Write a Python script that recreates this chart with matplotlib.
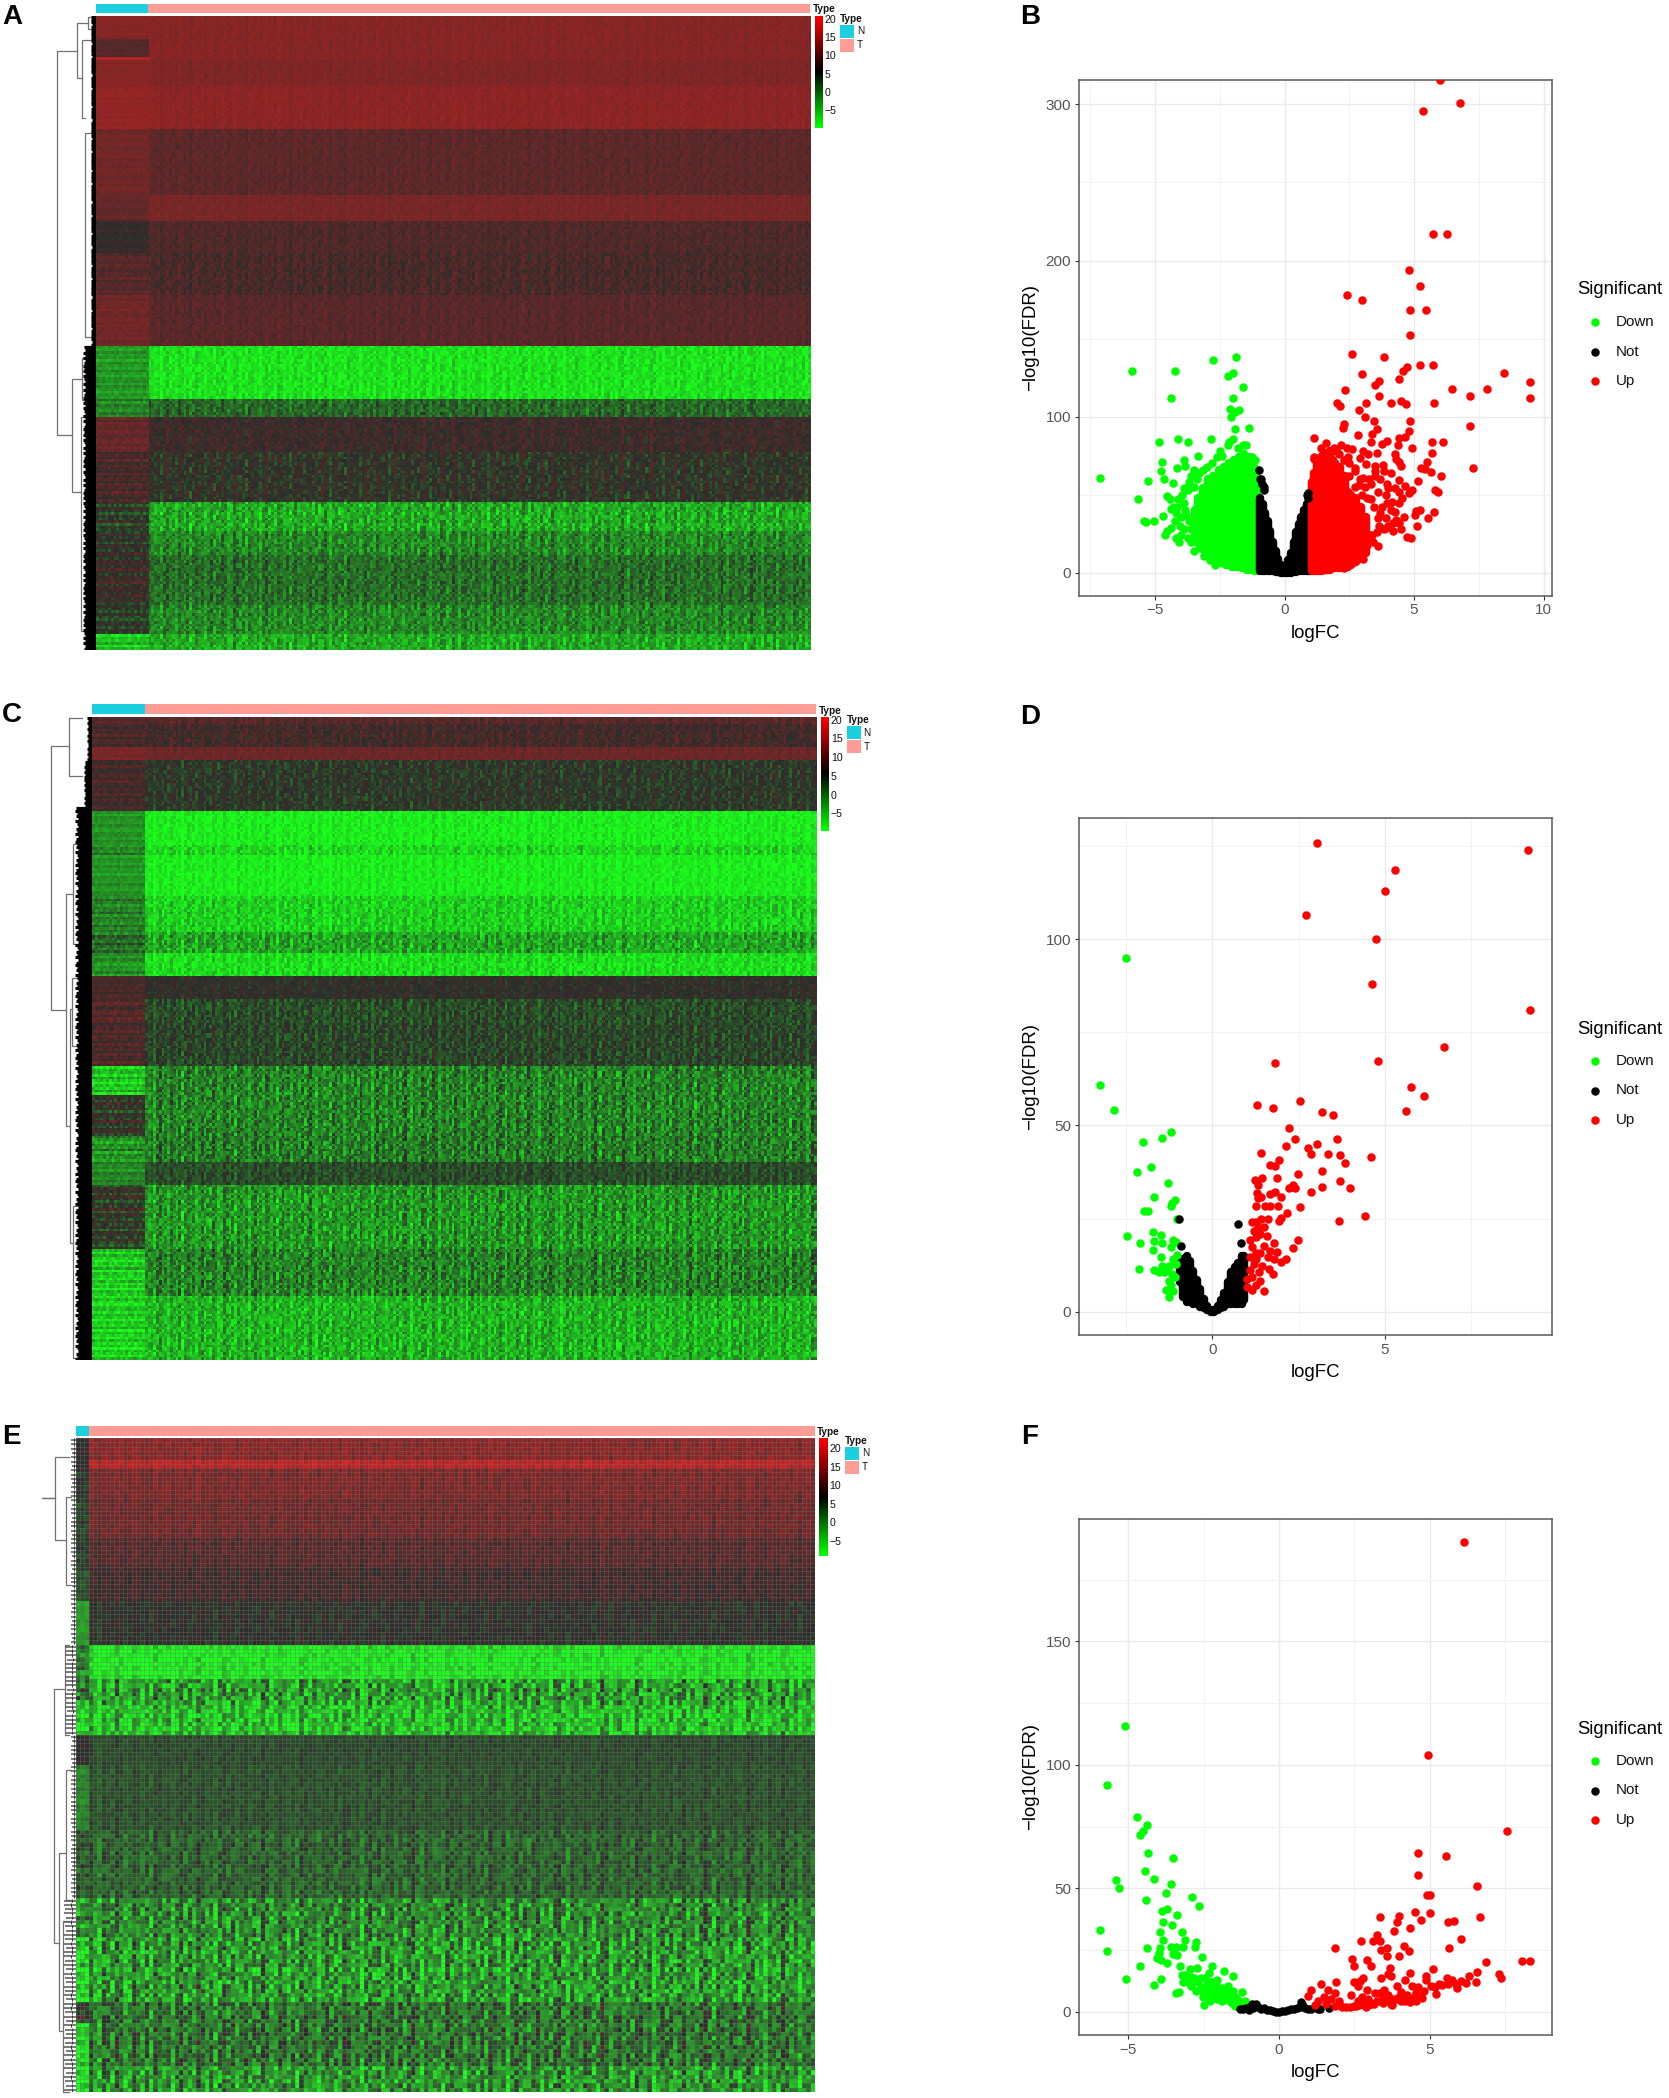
import numpy as np
import matplotlib
matplotlib.use("Agg")
import matplotlib.pyplot as plt
from matplotlib.colors import LinearSegmentedColormap
from matplotlib.ticker import MultipleLocator

plt.rcParams['font.family'] = ['Liberation Sans', 'DejaVu Sans']
W, H = 1669, 2098
fig = plt.figure(figsize=(W/100, H/100), dpi=100, facecolor='white')

def ax_px(x0, y0, x1, y1, **kw):
    return fig.add_axes([x0/W, 1-y1/H, (x1-x0)/W, (y1-y0)/H], **kw)

# ---------- Volcano data (logFC, -log10 FDR) ----------
b_up_x = [6.0,6.79,5.34,5.73,6.28,4.79,5.22,2.39,2.98,4.86,5.45,4.86,2.6,3.85,5.24,5.72,4.71,4.58,2.97,8.48,4.43,3.66,3.49,9.49,9.49,6.47,7.83,7.17,2.32,3.64,3.13,4.09,4.5,4.68,5.77,2.04,2.14,2.87,3.1,3.44,4.83,7.17,2.29,2.27,3.57,3.36,4.79,2.85,1.12,4.42,4.66,3.97,3.76,3.34,5.7,6.11,4.37,2.19,2.4,2.6,4.93,3.01,3.57,3.21,5.68,4.28,4.32,2.44,2.9,1.12,4.42,5.49,3.15,3.79,4.5,3.48,2.72,5.26,5.44,7.27,3.48,5.67,3.84,4.09,6.03,3.03,4.43,5.14,3.34,3.94,2.88,4.66,5.82,5.93,4.91,4.79,4,4.25,4.43,3.34,2.69,4.13,3.76,5.24,5.09,5.75,4.25,5.04,3.92,4.3,5.54,3.59,4.42,3.92,5.11,4.17,4.73,4.88,3.38,3.43,3.18,3.03,
          2.3,2.5,2.7,2.9,3.1,3.25,3.5,3.7,3.9,3.6,3.2,3.45,3.7,3.0,2.7,3.65,3.85,3.55,3.3,3.15,4.0,4.2,4.5,4.6,4.1,4.4,3.95,4.55,2.5,2.1,1.15,1.4,1.6,1.9,2.0,3.6,3.0,2.85,2.6,2.3,2.45]
b_up_y = [315.6,301,296,217,217,194,183.5,178,175,168,168,152.5,140,138,133,133,132,129,127,128,124,123,120.5,122,112,118,118,113,117,113,109,109,110,108,108.6,109,107,104,100,97,97,94,95,92.5,92,89,91,88,86.5,86.5,87,84.6,82.5,84,84,84,82,82,80,79,80,78,77,76,76.5,76,73,74,73.6,73,71,71,69.5,69,68.5,68.5,67,67,66.6,67,65,64.4,65,63.6,62,61,59.6,59,57,57,56,55.5,53,52,53,51,54,54,51.5,47,46,45.5,42,40.4,39.6,39,39,36.7,35,34,34.8,35,32,29,30,27,23,22,24.5,20,17.5,9,
          72,70,65,60,55,60,62,60,50,52,48,42,38,50,55,30,28,26,24,21,30,32,28,36,40,45,45,48,62,76,74,80,83,80,78,17,15,9,6,3,5]
b_down_x = [-7.12,-5.9,-4.22,-2.77,-1.89,-2.17,-1.98,-1.61,-4.37,-1.99,-2.09,-1.78,-1.93,-2.08,-1.93,-1.38,-4.84,-4.1,-3.72,-2.83,-2.16,-2,-4.74,-3.34,-3.89,-4.78,-4.17,-3.85,-4.65,-3.48,-5.27,-4.3,-5.67,-3.9,-3.74,-4.56,-4.43,-5.42,-5.06,-5.36,-4.71,-4.4,-4.15,-3.87,-4.2,-3.82,-4.38,-4.56,-4.6,-4.2,-4.07,-3.99,-3.74,-3.6,-3.25,
            -3.6,-3.4,-3.3,-3.15,-3.0,-2.8,-2.6,-2.4,-3.7,-3.5,-3.95,-4.1,-4.3,-3.85,-4.0,-3.7,-4.05,-3.9,-4.25,-3.45,-3.6,-3.35,-3.5,-3.1,-2.9,-2.7,-1.6,-1.5,-1.8,-2.2,-2.5,-1.3,-1.25,-1.15]
b_down_y = [60.4,129,129,136,138.5,126,128,119,112,112,105,104,103,100,92,93,84,86,83.6,85.4,84,86,71,75,72.5,65,67,68.5,60,66,58.5,57.7,47,54,53,49,47,33,33.4,32.6,36.4,40.7,42,45,38,36.7,28.6,27,24,22.4,20,24,22,27.8,16,
            62,60,64,66,68,70,74,75,58,55,50,47,42,40,36,33,30,28,33,30,20,20,14,11,8,5,82,82,80,82,78,70,74,72]
b_not_x = [-0.97,-0.95,-0.9,-0.87,-0.8,-0.78,0.85,0.9,0.92]
b_not_y = [66,60,60,57,53,55,50,51,48]
# dense parts of the clouds: logFC bin, lowest and highest -log10 FDR in that bin
b_down_bin = [-1.05,-1.15,-1.25,-1.35,-1.45,-1.55,-1.65,-1.75,-1.85,-1.95,-2.05,-2.15,-2.25,-2.35,-2.45,-2.55,-2.65,-2.75,-2.85,-2.95,-3.05,-3.15,-3.25,-3.35,-3.45]
b_down_hi = [60,67,69,74,72,76,70,74,68,72,66,70,64,68,62,66,58,62,56,60,50,54,46,48,40]
b_down_lo = [1,1,2,2,2,3,3,4,4,4,4,5,5,6,6,7,7,8,10,12,13,15,17,19,21]
b_not_bin = [-0.95,-0.85,-0.75,-0.65,-0.55,-0.45,-0.35,-0.25,-0.15,-0.05,0.05,0.15,0.25,0.35,0.45,0.55,0.65,0.75,0.85,0.95]
b_not_hi = [48,44,38,33,27,20,14,9,5,1.5,2,8,13,20,26,31,36,40,44,47]
b_not_lo = [1,1,1,1,1,1,0.5,0.5,0,0,0,0,0,0.5,0.5,1,1,1,1,1]
b_up_bin = [1.05,1.15,1.25,1.35,1.45,1.55,1.65,1.75,1.85,1.95,2.05,2.15,2.25,2.35,2.45,2.55,2.65,2.75,2.85,2.95,3.05,3.15]
b_up_hi = [58,64,70,72,75,77,74,78,72,70,66,68,58,62,52,50,44,48,38,42,34,36]
b_up_lo = [1,1,1,1,1,2,2,2,3,3,3,3,4,4,4,5,6,7,9,11,12,13]

d_up_x = [3.04,9.15,5.3,5,2.72,4.75,4.62,9.22,6.72,4.81,1.82,5.77,6.13,5.61,2.54,1.3,1.77,3.17,3.51,2.22,2.39,3.61,2.13,3.02,2.78,1.41,2.87,3.34,3.69,4.6,1.94,3.86,1.66,1.82,3.18,2.49,1.86,1.44,1.25,3.69,1.32,2.3,2.35,2.4,2.23,3.18,4,2.86,1.81,1.68,1.29,1.41,2,1.32,1.26,1.53,1.68,1.91,2.54,2.15,4.43,1.98,1.93,3.66,1.61,1.41,1.14,1.26,1.51,1.32,1.2,1.39,1.08,1.57,1.26,2.49,1.79,1.49,2.35,1.14,1.66,1.88,1.39,1.61,2.13,1.98,1.78,1.26,1.08,1.2,1.45,1.63,1.35,1.76,1.14,1.39,1.01,1.26,1.14,1.49,1.01,1.26,1.08]
d_up_y = [126,124,118.6,113,106.6,100,88,81,71,67.4,66.7,60.3,58,54,56.6,55.5,54.6,53.7,52.9,49.4,46.3,46.4,44.5,45,43.9,42.5,42.4,42.3,42.1,41.4,40.7,39.8,39.3,39,37.8,36.9,36,35.9,35.4,35,33.9,33.5,33.9,33.3,33.2,33.4,33.3,32,32,31.7,31.8,30.8,30.7,30.4,28.4,28.4,28.4,28.3,28.2,26.4,25.7,25.1,24.4,24.3,24.8,24.8,24.1,24,22.8,22.8,21.7,20.8,19.3,20.3,19.9,19.2,18.5,17.6,17,17.3,16.4,16,15.8,14.7,14,13.4,14,14,14.7,12.9,12.3,11.5,10.6,10,9.4,8.3,8.8,7.1,5.7,5.6,6.5,15.8,11.2]
d_down_x = [-2.5,-3.25,-2.85,-1.2,-1.46,-2.02,-1.78,-2.18,-1.3,-1.7,-1.09,-1.18,-1.19,-1.99,-1.88,-1.03,-1.71,-1.5,-2.48,-2.09,-1.68,-1.47,-1.71,-1.15,-1.06,-1.21,-1.49,-2.14,-1.68,-1.46,-1.56,-1.34,-1.15,-1.03,-1.06,-1.18,-1.27,-1.21,-1.34,-1.25,-1.15,-1.09,-1.4,-1.27]
d_down_y = [95,60.8,54.2,48.2,46.7,45.5,38.9,37.5,34.6,30.8,30,29.2,28.3,27.1,27.1,24.9,21.3,20.7,20.4,18.4,18.9,18.3,16.6,19.3,18.7,17.3,14.7,11.5,11.1,12.3,10.6,11.2,14.1,15.2,12.9,10,8.3,7.1,5.7,3.8,5.4,9.4,10.6,12.3]
d_not_x = [-0.97,0.73,0.84,-0.9]
d_not_y = [24.9,23.5,18.4,17.6]
d_not_bin = [-0.95,-0.85,-0.75,-0.65,-0.55,-0.45,-0.35,-0.25,-0.15,-0.05,0.05,0.15,0.25,0.35,0.45,0.55,0.65,0.75,0.85,0.92]
d_not_hi = [13,14,15,13.5,11,8.5,6,3.5,1.5,0.5,0.5,1.5,3,5,8,10.5,12,13,15,15]
d_not_lo = [8,4,2.5,2.5,2,2,1.2,1,0.5,0,0,0.5,1,1.2,2,2,2,2,2,3]

f_up_x = [6.14,4.94,7.57,4.61,5.53,4.61,6.55,4.91,5.01,5.02,4.5,6.66,3.35,3.97,3.92,4.7,5.6,5.81,4.36,3.82,3.25,2.73,3.11,3.34,6.04,3.38,3.59,4.14,4.3,1.87,5.64,3.59,3.99,2.42,2.91,2.48,3.06,6.86,8.06,8.33,5.12,3.69,3.62,3.73,4.33,4.19,4.89,4.89,6.56,7.3,7.37,6.31,6.52,5.56,5.74,6.03,5.32,5.6,5.86,5.04,5.18,4.61,4.82,5.21,4.54,4.68,4.54,4.19,3.9,3.62,3.34,3.06,2.77,2.49,2.21,3.9,3.48,3.2,2.91,2.7,2.49,2.8,2.63,1.9,1.39,1.07,0.96,1.64,1.85,1.5,1.29,1.71,1.85,2,2.38,2.77,3.34,3.62,3.97,4.26,3.38,2.63,3.48,4.33,
          2.35,2.55,2.65,2.95,3.05,3.15,3.25,3.45,3.55,3.7,3.8,4.05,4.15,4.35,4.45,4.75,2.1,2.9,3.75,4.05,5.4,5.9,6.2,4.4,2.95,1.2,1.55,2.05]
f_up_y = [190,103.8,73.3,64.2,63.2,55.5,50.8,47.4,47.4,40,40.4,38.3,38.3,38.9,36.4,37.3,36.2,36.9,34.1,32.7,31,28.7,28.7,28.7,29.4,25.2,25.7,26.6,24.7,26,25.7,22.6,22.6,21.5,20.8,18.7,18.7,20.1,20.5,20.7,17.3,17.7,15.2,14.7,15.6,13,14.7,13,16.3,15.2,13.8,14.7,12.1,13.8,13,12.6,11.2,11.2,11.2,10.3,10,10,8.6,7.2,7.7,6,4.2,4.2,5,4.2,4.2,3.3,3,2.5,1.9,10.3,8.9,7.7,8.9,12.4,12.1,13.5,10.3,12.1,11.2,8.9,6.5,8.9,7.7,6,4.2,5,2.5,4.2,6.8,6,7.7,6.8,6,6.8,13.8,4.2,5,4.2,
          1.8,2.2,2.8,2.6,3.6,3.1,4.4,3.5,4.8,3.3,5.2,4.4,5.8,3.8,5.4,5.4,2.1,2.0,2.8,8.2,10.8,9.6,11.6,10.4,5.1,2.8,3.2,2.4]
f_down_x = [-5.12,-5.7,-4.71,-4.38,-4.5,-4.6,-4.33,-3.52,-4.43,-5.4,-4.14,-3.58,-5.3,-3.73,-2.87,-4.41,-2.66,-3.88,-3.71,-3.39,-3.85,-3.54,-5.93,-3.93,-3.22,-3.13,-3.86,-2.76,-2.8,-4.38,-3.95,-5.7,-3.59,-3.42,-3.17,-3.52,-3.38,-3.99,-4.05,-3.9,-3.72,-2.55,-4.61,-3.28,-2.96,-2.72,-2.22,-1.82,-1.51,-3.21,-5.06,-3.92,-4.13,-3.41,-3.31,-3.17,-3.03,-2.81,-2.67,-2.46,-2.32,-2.25,-2.04,-2.74,-2.53,-2.32,-2.11,-1.9,-1.68,-1.54,-1.22,-2.49,-2.29,-2.04,-1.75,-1.47,-1.26,-1.47,-1.9,-2.18,-2.39,-2.6,-2.91,-1.12,-1.97,-1.61,-2.53,
            -2.4,-2.3,-2.2,-2.1,-2.0,-1.85,-1.7,-1.6,-1.4,-1.3,-1.2,-2.65,-2.45,-2.35,-2.15,-1.95,-1.8,-1.55,-1.35,-3.1,-2.9]
f_down_y = [115.9,91.7,78.9,75.6,73.3,71.6,64.4,62.3,57.2,53.4,53.6,51.6,50.2,48,46.4,45.2,42.9,41,41.7,39,36.4,35.2,33.3,32.2,32.4,29,29,28.4,26.4,25.7,25.7,24.5,26.4,26.4,26.4,23.5,22.9,24,21.7,20.8,19.8,22,18.4,18.7,17.3,17.7,18.7,16.5,14.5,15,13.3,13.3,10.9,7.7,8,12.1,12.1,13.8,12.1,13.8,15.6,12.1,13,8.6,9.5,8.6,7.7,9.5,10.3,8.6,8,2.8,4.2,5,6,6,3.3,2.5,4.2,10.3,11.2,13.8,10.3,4.2,6.8,4.2,6,
            10,12,9,11,8,7,8,6,5,4,2.5,9,8,6,7,6,5,3.5,3,15,14]
f_not_x = [1.67,1.29,0.72,-0.76,-1.3,-1.2,-1.1,-1,-0.95,-0.9,-0.85,-0.7,-0.6,-0.5,-0.4,-0.3,-0.2,-0.1,0,0.1,0.2,0.3,0.4,0.5,0.6,0.7,0.75,0.85,0.95,1.05,1.35]
f_not_y = [1.4,1,3.9,3.3,1,1,1.5,0.8,2,3,1.5,2,1.2,1.5,0.8,0.6,0.3,0,0,0.2,0.5,0.8,1,1.3,1.5,2,3,1.5,1,1,1]

# ---------- Heatmap data: bands of rows (edges on the row scale) with the level of
# tumour (T) and normal (N) columns and the strength of the streaks, estimated by eye.
a_edges  = [37,95,135,145,205,310,465,530,600,700,825,945,990,1075,1190,1265,1320,1440,1510,1545]
a_tumor  = [12,12,12,11.5,12.5,9,11,8,7.5,8.7,-8,1,6.5,5,-4,-1.5,0.5,-1.5,-4]
a_normal = [12,8.5,15,12,13,10.5,9.5,6,8.5,10.5,-2.5,-1,9.5,7.5,4,5,6,4,-6]
a_spread = [1,1,1,1,1,1.3,1,1.6,2.2,1.5,3,3.5,2.4,3.5,5,4.5,4,4.5,4.5]

c_edges  = [62,80,135,165,282,360,385,480,560,610,662,715,770,870,935,1030,1090,1142,1290,1395,1545]
c_tumor  = [8.5,7,10,4.5,-8.5,-7,-8.5,-6.5,-3.5,-7.5,5.5,3,3.5,-1,-1,-0.5,3,-2.5,-1,-4.5]
c_normal = [8,7.5,11,7,-2,-1,-2,-0.5,1,-2,7.5,8,7.5,-6,5,-2,-1,4.5,-6.5,-6.5]
c_spread = [2,2.5,1.2,3,2.5,4,2.5,4,5,3.5,2,3.5,3.5,5.5,5.5,5.5,3,5.5,5.5,5]

e_edges  = [42,90,112,180,270,340,420,515,600,660,730,800,945,1110,1200,1350,1400,1500,1555]
e_tumor  = [14,18,13,12,10,8.5,6.5,-9,-3,-6,4.5,4,2.5,-1,-2.5,1,1,-2]
e_normal = [7,7,6,5,5,4,-2,0,1,-8,7,0,3,-2,-8,5,-8,-8]
e_spread = [2,2,2,2,2,2,2,5,9,8,1.5,2,4,8,9,7,7,8]

# streak and speckle patterns, typed by hand from the look of the reference
col_effect = [0.2,-0.5,0.3,0.7,-0.1,-0.9,0.4,0.1,-0.3,0.6,0.2,-0.6,-0.2,0.8,0.3,-0.4,0.1,-0.8,0.5,0.2,-0.1,0.4,-0.7,0.3,0.6,-0.2,0.1,-0.5,0.7,0.2,-0.3,0.4,-0.9,0.1,0.5,-0.2,0.3,-0.6,0.2,0.6,-0.4]
row_effect = [0.4,-0.3,0.6,0.1,-0.5,0.2,-0.1,0.7,-0.6,0.3,0.0,-0.4,0.5,-0.2,0.2,-0.7,0.4,0.1,-0.3,0.6,-0.1,-0.5,0.3]
speckle = [
 [ 0.6,-0.8, 0.2, 0.9,-0.3,-0.6, 0.4, 0.1,-0.9, 0.7,-0.2, 0.5,-0.5],
 [-0.4, 0.3,-0.9, 0.5, 0.8,-0.1,-0.7, 0.6, 0.2,-0.5, 0.9,-0.3, 0.1],
 [ 0.8, 0.1, 0.5,-0.6,-0.2, 0.7, 0.3,-0.8, 0.4, 0.0,-0.6, 0.9,-0.4],
 [-0.7, 0.9,-0.3, 0.2,-0.5, 0.4,-0.9, 0.6,-0.1, 0.8, 0.3,-0.6, 0.5],
 [ 0.3,-0.5, 0.7,-0.1, 0.6,-0.8, 0.2,-0.4, 0.9,-0.7, 0.1, 0.4,-0.2],
 [-0.1, 0.6,-0.4, 0.8,-0.9, 0.3, 0.5,-0.2,-0.6, 0.4, 0.7,-0.8, 0.2],
 [ 0.9,-0.2, 0.1,-0.7, 0.4, 0.6,-0.5, 0.8,-0.3, 0.2,-0.9, 0.3, 0.6],
 [-0.6, 0.4,-0.8, 0.3, 0.1,-0.4, 0.9,-0.7, 0.5,-0.1, 0.6,-0.2,-0.5],
 [ 0.2, 0.7, 0.5,-0.9,-0.4, 0.8,-0.3, 0.1, 0.6,-0.8, 0.4, 0.0,-0.6],
 [-0.8, 0.0,-0.2, 0.6, 0.9,-0.7, 0.2,-0.5, 0.3, 0.5,-0.4, 0.7, 0.1],
 [ 0.5,-0.6, 0.8,-0.3,-0.7, 0.1, 0.6,-0.9, 0.0, 0.4, 0.2,-0.5, 0.9]]

# samples per group and rows of each heatmap
a_n_normal, a_n_tumor, a_rows = 18, 227, 240
c_n_normal, c_n_tumor, c_rows = 19, 241, 250
e_n_normal, e_n_tumor, e_rows = 3, 169, 152

# dendrogram nodes: merge position, and row span of the two children
a_node_h   = [103,140,132,150,147,160,150,155]
a_node_top = [120,55,900,850,990,40,95,315]
a_node_bot = [1035,185,1170,950,1500,70,280,800]
a_child_t  = [140,160,150,160,160,170,165,165]
a_child_b  = [132,150,147,160,160,170,155,165]
a_comb_edges = [37,825,1545]
a_comb_len   = [10,24]

c_node_h   = [93,125,120,134,128,131,133]
c_node_top = [130,65,470,355,735,665,1190]
c_node_bot = [738,198,1005,585,1275,820,1540]
c_child_t  = [125,150,134,145,131,145,145]
c_child_b  = [120,150,128,145,133,145,145]
c_comb_edges = [62,160,270,1545]
c_comb_len   = [8,14,30]

e_node_h   = [77,101,120,98,118,120,107,115]
e_node_top = [180,85,178,622,520,810,1003,1160]
e_node_bot = [181,278,382,1210,730,1110,1415,1555]
e_child_t  = [101,125,130,118,125,130,120,125]
e_child_b  = [101,120,130,107,125,130,115,125]
e_comb_edges = [42,515,730,1110,1555]
e_comb_len   = [9,20,9,22]
jag = [1.0,0.88,0.95,0.8,1.0,0.9,0.84,0.97,0.86,1.0,0.82,0.93]

cb_ticks = [-5,0,5,10,15,20]
type_labels = ['N','T']

# ---------- colours ----------
GREEN, RED, BLACK, NOTC = '#00FF00', '#FF0000', '#000000', '#000000'
pure_cmap = LinearSegmentedColormap.from_list('gbr', ['#00FF00', '#000000', '#FF0000'], N=50)
cell_cmap = LinearSegmentedColormap.from_list('cells', ['#1CFF1C', '#2C2C2C', '#FF1E1E'], N=128)
N_COL, T_COL = '#1CCFE0', '#FF9C96'

def build(edges, tum, nor, spr, n_n, n_t, rows):
    e = np.array(edges, float)
    yc = e[0] + (np.arange(rows)+0.5)/rows*(e[-1]-e[0])
    band = np.clip(np.searchsorted(e, yc, side='right')-1, 0, len(tum)-1)
    M = np.zeros((rows, n_n+n_t))
    ce, re, sp = np.array(col_effect), np.array(row_effect), np.array(speckle)
    for i in range(rows):
        for j in range(n_n+n_t):
            b = band[i]
            s = spr[b]
            sk = sp[(3*i + j//7) % 11, (j + 5*i + i//3) % 13]
            if j < n_n:
                M[i, j] = nor[b] + s*(0.8*re[i % len(re)] + 0.5*sk)
            else:
                tex = 0.6*ce[(j + 7*(j//41)) % 41] + 0.12*re[i % len(re)] + 0.8*sk
                M[i, j] = tum[b] + s*tex
    return M

def heatmap(px, split_px, edges, tum, nor, spr, n_n, n_t, rows, vmin, vmax,
            anno_y, cb_px, grid=False):
    x0, y0, x1, y1 = px
    ax = ax_px(x0, y0, x1, y1)
    M = build(edges, tum, nor, spr, n_n, n_t, rows)
    ax.imshow(M, cmap=cell_cmap, vmin=vmin, vmax=vmax, aspect='auto',
              interpolation='nearest', extent=(0, n_n+n_t, rows, 0))
    if grid:
        ax.vlines(np.arange(n_n+n_t+1), 0, rows, color='#707070', lw=0.5, alpha=0.5)
        ax.hlines(np.arange(rows+1), 0, n_n+n_t, color='#707070', lw=0.5, alpha=0.5)
    ax.set_xlim(0, n_n+n_t); ax.set_ylim(rows, 0)
    ax.axis('off')
    # annotation strip
    an = ax_px(x0, anno_y[0], x1, anno_y[1])
    an.barh(0, n_n, left=0, height=1, color=N_COL)
    an.barh(0, n_t, left=n_n, height=1, color=T_COL)
    an.set_xlim(0, n_n+n_t); an.set_ylim(-0.5, 0.5); an.axis('off')
    # colour bar
    cx0, cy0, cx1, cy1 = cb_px
    cb = ax_px(cx0, cy0, cx1, cy1)
    cb.imshow(np.linspace(vmax, vmin, 50)[:, None], cmap=pure_cmap, vmin=vmin, vmax=vmax,
              aspect='auto', extent=(0, 1, vmin, vmax))
    cb.set_xticks([]); cb.yaxis.tick_right()
    cb.set_yticks(cb_ticks)
    cb.set_yticklabels([str(t).replace('-', '\u2212') for t in cb_ticks], fontsize=7.6, color='#111111')
    cb.tick_params(length=0, pad=2)
    for s in cb.spines.values():
        s.set_visible(False)
    # strip title and legend
    ov.text(cx0-1.5, anno_y[1]-3.5, 'Type', fontsize=7.2, fontweight='bold', ha='left', va='center', color='#111111')
    lx = cx1 + 18.5
    ov.text(lx, cy0+3, 'Type', fontsize=7.2, fontweight='bold', ha='left', va='center', color='#111111')
    ov.fill_between([lx, lx+14], cy0+9, cy0+22, color=N_COL, lw=0)
    ov.fill_between([lx, lx+14], cy0+23, cy0+36, color=T_COL, lw=0)
    ov.text(lx+17, cy0+15.5, type_labels[0], fontsize=7.2, ha='left', va='center', color='#111111')
    ov.text(lx+17, cy0+29.5, type_labels[1], fontsize=7.2, ha='left', va='center', color='#111111')
    return ax

def dendro(px, left_z, edges, rows, node_h, top, bot, ct, cb_, comb_edges, comb_len, ladder=False):
    x0, y0, x1, y1 = px
    ax = ax_px(x0, y0, x1, y1)
    ax.set_xlim(0, left_z); ax.set_ylim(edges[-1], edges[0]); ax.axis('off')
    lc = '#707070'
    for h, t, b, c1, c2 in zip(node_h, top, bot, ct, cb_):
        ax.plot([c1, h, h, c2], [t, t, b, b], color=lc, lw=0.9, solid_joinstyle='miter', clip_on=False)
    yy = edges[0] + (np.arange(rows)+0.5)/rows*(edges[-1]-edges[0])
    ce = np.array(comb_edges)
    idx = np.clip(np.searchsorted(ce, yy, side='right')-1, 0, len(comb_len)-1)
    L = np.array(comb_len, float)[idx]*np.array(jag)[np.arange(rows) % len(jag)]
    if ladder:
        ax.hlines(yy, left_z-L, left_z, color='#555555', lw=1.1)
        ax.vlines(left_z-L*0.35, yy-4, yy+4, color='#333333', lw=0.7)
    else:
        ax.hlines(yy, left_z-L, left_z, color='black', lw=2.3)

def volcano(px, xlim, ylim, xmaj, ymaj, up, down, not_, bins_not=None, bins_down=None, bins_up=None,
            leg_y=None):
    x0, y0, x1, y1 = px
    ax = ax_px(x0, y0, x1, y1)
    ax.set_xlim(*xlim); ax.set_ylim(*ylim)
    ax.set_axisbelow(True)
    ax.xaxis.set_major_locator(MultipleLocator(xmaj)); ax.yaxis.set_major_locator(MultipleLocator(ymaj))
    ax.xaxis.set_minor_locator(MultipleLocator(xmaj/2)); ax.yaxis.set_minor_locator(MultipleLocator(ymaj/2))
    ax.grid(True, which='major', color='#EBEBEB', lw=1.05)
    ax.grid(True, which='minor', color='#F0F0F0', lw=0.6)
    ax.tick_params(which='minor', length=0)
    ax.tick_params(which='major', length=2.6, width=0.8, color='#333333', labelcolor='#555555', labelsize=11, pad=3)
    for s in ax.spines.values():
        s.set_color('#5a5a5a'); s.set_linewidth(1.1)
    ax.set_xlabel('logFC', fontsize=13.4, color='black', labelpad=5.5)
    ax.set_ylabel('\u2212log10(FDR)', fontsize=13.4, color='black', labelpad=5)
    D = 6.1
    s = D**2
    for b, col in ((bins_down, GREEN), (bins_not, NOTC), (bins_up, RED)):
        if b is not None:
            ax.vlines(b[0], b[1], b[2], color=col, lw=D, capstyle='round', zorder=3)
    ax.scatter(down[0], down[1], s=s, color=GREEN, lw=0, zorder=3)
    ax.scatter(not_[0], not_[1], s=s, color=NOTC, lw=0, zorder=3)
    ax.scatter(up[0], up[1], s=s, color=RED, lw=0, zorder=3)
    # legend
    ly0 = leg_y
    ov.text(1577.5, ly0, 'Significant', fontsize=13.3, ha='left', va='center')
    for k, (lab, col) in enumerate((('Down', GREEN), ('Not', BLACK), ('Up', RED))):
        yy = ly0 + 32 + k*29.5
        ov.plot([1595], [yy], 'o', ms=D, color=col, mew=0)
        ov.text(1616, yy, lab, fontsize=10.9, ha='left', va='center', color='#111111')
    return ax

# overlay in pixel coordinates for letters and legends
ov = fig.add_axes([0, 0, 1, 1], zorder=10)
ov.set_xlim(0, W); ov.set_ylim(H, 0); ov.axis('off'); ov.patch.set_alpha(0)

# ---------- heatmaps ----------
heatmap((96, 15.6, 810, 650), 148.7, a_edges, a_tumor, a_normal, a_spread, a_n_normal, a_n_tumor, a_rows,
        -10, 21, (4, 12.6), (814.6, 15.6, 821.7, 128))
heatmap((91.6, 717, 816, 1360), 144.8, c_edges, c_tumor, c_normal, c_spread, c_n_normal, c_n_tumor, c_rows,
        -9.7, 20.7, (704, 714), (820.6, 717, 828, 831))
heatmap((75.7, 1438, 814.6, 2092), 88.3, e_edges, e_tumor, e_normal, e_spread, e_n_normal, e_n_tumor, e_rows,
        -9.1, 22.7, (1425.6, 1435.6), (818.5, 1438, 826.7, 1556), grid=True)

dendro((0, 15.6, 96, 650), 175, a_edges, a_rows, a_node_h, a_node_top, a_node_bot, a_child_t, a_child_b, a_comb_edges, a_comb_len)
dendro((0, 717, 91.6, 1360), 167, c_edges, c_rows, c_node_h, c_node_top, c_node_bot, c_child_t, c_child_b, c_comb_edges, c_comb_len)
dendro((0, 1438, 75.7, 2092), 138, e_edges, e_rows, e_node_h, e_node_top, e_node_bot, e_child_t, e_child_b, e_comb_edges, e_comb_len, ladder=True)

# ---------- volcano plots ----------
volcano((1079, 80, 1551.6, 595.6), (-7.94, 10.31), (-14.6, 315.6), 5, 100,
        (b_up_x, b_up_y), (b_down_x, b_down_y), (b_not_x, b_not_y),
        bins_not=(b_not_bin, b_not_lo, b_not_hi), bins_down=(b_down_bin, b_down_lo, b_down_hi),
        bins_up=(b_up_bin, b_up_lo, b_up_hi), leg_y=290)
volcano((1079, 818.4, 1551.6, 1335), (-3.87, 9.84), (-6.3, 132.5), 5, 50,
        (d_up_x, d_up_y), (d_down_x, d_down_y), (d_not_x, d_not_y),
        bins_not=(d_not_bin, d_not_lo, d_not_hi), leg_y=1029)
volcano((1079, 1519, 1551.6, 2034.8), (-6.63, 9.04), (-9.3, 199.5), 5, 50,
        (f_up_x, f_up_y), (f_down_x, f_down_y), (f_not_x, f_not_y), leg_y=1729)

for lab, x, y in (('A', 2, 17), ('B', 1020, 17), ('C', 2, 715), ('D', 1020, 717), ('E', 2, 1437), ('F', 1021, 1437)):
    ov.text(x, y, lab, fontsize=20, fontweight='bold', ha='left', va='center', color='black')

fig.savefig('out.png', dpi=100)
